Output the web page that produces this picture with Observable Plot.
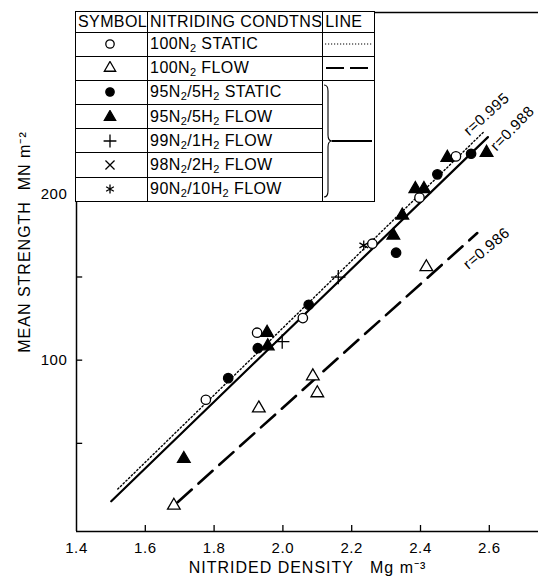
<!DOCTYPE html>
<html><head><meta charset="utf-8">
<script src="https://cdn.jsdelivr.net/npm/d3@7"></script>
<script src="https://cdn.jsdelivr.net/npm/@observablehq/plot@0.6"></script>
<style>
body{margin:0;background:#fff;}
#wrap{position:relative;width:538px;height:583px;overflow:hidden;background:#fff;}
#legend{position:absolute;left:75px;top:11px;border-collapse:collapse;table-layout:fixed;
  font-family:"Liberation Sans",Arial,sans-serif;font-size:16px;color:#000;background:#fff;letter-spacing:0.4px;}
#legend td{border:1.6px solid #000;padding:0 0 0 2px;white-space:nowrap;line-height:1;overflow:hidden;}
#legend td.sym{text-align:center;padding:0;}
#legend td.ln{padding:0;}
#legend sub{font-size:11px;vertical-align:-3px;line-height:0;}
#legend svg{display:block;}
</style></head>
<body><div id="wrap"></div>
<script>
// ---- axis ticks ----
const xDomain = [1.4, 2.743];
const yDomain = [-3, 309];
const xTickLabels = [1.4, 1.6, 1.8, 2.0, 2.2, 2.4, 2.6];
const xTicks = [1.6, 1.8, 2.0, 2.2, 2.4, 2.6];
const yTicks = [50, 100, 150, 200];
const yTickLabels = [100, 200];
const xTitle = "NITRIDED DENSITY   Mg m\u207B\u00B3";
const yTitle = "MEAN STRENGTH  MN m\u207B\u00B2";

// ---- data series [density, strength] ----
const n2Static = [[1.776,76.2],[1.925,116.5],[2.058,125.3],[2.260,170],[2.397,197.7],[2.503,222.5]];
const n2Flow = [[1.683,12.6],[1.930,71.1],[2.087,90.4],[2.100,80.2],[2.417,156]];
const h5Static = [[1.841,89.2],[1.927,107.2],[2.075,133.3],[2.329,164.6],[2.449,211.7],[2.547,224.1]];
const h5Flow = [[1.712,40.7],[1.954,116.5],[1.956,108.4],[2.321,175],[2.347,187],[2.385,203],[2.410,203],[2.478,221.7],[2.592,224.7]];
const h1Flow = [[1.998,111.2],[2.161,149.9]];
const h2Flow = [];
const h10Flow = [[2.235,169]];

// ---- fitted lines ----
const lineStatic100 = [[1.52,22.5],[2.585,237.5]];   // dotted
const lineFlow100 = [[1.694,14.6],[2.565,176.4]];    // dashed
const lineH2 = [[1.501,15.2],[2.596,234.1]];         // solid

// ---- correlation labels ----
const rLabels = ["r=0.995", "r=0.988", "r=0.986"];
const rX = [2.592, 2.667, 2.592];
const rY = [247.8, 239.3, 167.2];
const rAngle = [-42, -46, -40];

// ---- legend table ----
const legendHead = ["SYMBOL", "NITRIDING CONDTNS", "LINE"];
const legendSymbols = ["circle","triangle","circle","triangle","plus","times","asterisk"];
const legendFilled = [false,false,true,true,false,false,false];
const legendLabels = ["100N\u2082 STATIC","100N\u2082 FLOW","95N\u2082/5H\u2082 STATIC","95N\u2082/5H\u2082 FLOW","99N\u2082/1H\u2082 FLOW","98N\u2082/2H\u2082 FLOW","90N\u2082/10H\u2082 FLOW"];

const P = d => d[0], Q = d => d[1];
const dotR = 4.7;
function dots(data, symbol, filled) {
  return Plot.dot(data, {x: P, y: Q, symbol, r: dotR,
    fill: filled ? "black" : (symbol === "circle" || symbol === "triangle" ? "white" : "none"),
    stroke: "black", strokeWidth: 1.3});
}

const rData = rLabels.map((t, i) => ({t, x: rX[i], y: rY[i], a: rAngle[i]}));

const chart = Plot.plot({
  width: 538, height: 583,
  marginTop: 12, marginBottom: 52, marginLeft: 76, marginRight: 0,
  x: {domain: xDomain},
  y: {domain: yDomain},
  style: {fontFamily: "'Liberation Sans', Arial, sans-serif", fontSize: "15px", color: "black", background: "white", letterSpacing: "0.6px"},
  marks: [
    Plot.ruleY([yDomain[0]], {stroke: "black", strokeWidth: 1.5}),
    Plot.ruleY([yDomain[1]], {stroke: "black", strokeWidth: 1.5}),
    Plot.ruleX([xDomain[0]], {stroke: "black", strokeWidth: 1.5}),
    Plot.ruleX(xTicks, {x: d => d, y1: yDomain[0], y2: yDomain[0] + 3.6, stroke: "black", strokeWidth: 1.3}),
    Plot.ruleY(yTicks, {y: d => d, x1: xDomain[0], x2: xDomain[0] + 0.018, stroke: "black", strokeWidth: 1.3}),
    Plot.axisX({ticks: xTickLabels, tickSize: 0, tickPadding: 11, tickFormat: d3.format(".1f"), label: null}),
    Plot.axisY({ticks: yTickLabels, tickSize: 0, tickPadding: 9, label: null}),
    Plot.line(lineStatic100, {x: P, y: Q, stroke: "black", strokeWidth: 1.4, strokeDasharray: "1.4,2.4"}),
    Plot.line(lineFlow100, {x: P, y: Q, stroke: "black", strokeWidth: 2.6, strokeDasharray: "19,9"}),
    Plot.line(lineH2, {x: P, y: Q, stroke: "black", strokeWidth: 2.2}),
    dots(n2Static, "circle", false),
    dots(n2Flow, "triangle", false),
    dots(h5Static, "circle", true),
    dots(h5Flow, "triangle", true),
    dots(h1Flow, "plus", false),
    dots(h2Flow, "times", false),
    dots(h10Flow, "asterisk", false),
    Plot.text(rData, {x: "x", y: "y", text: "t", rotate: "a", fontSize: 15, fill: "black"}),
    Plot.text([xTitle], {frameAnchor: "bottom", dy: 41, fontSize: 16, fill: "black"}),
    Plot.text([yTitle], {frameAnchor: "middle", dx: -283, dy: -30, rotate: -90, fontSize: 16, fill: "black"})
  ]
});
const wrap = document.getElementById("wrap");
wrap.appendChild(chart);
// a bit wider lettering for the axis titles, as in the reference
d3.select(chart).selectAll("text").filter(function() { return this.textContent === xTitle || this.textContent === yTitle; })
  .attr("letter-spacing", "1px");

// ---- legend table overlay ----
const symMap = {circle: d3.symbolCircle, triangle: d3.symbolTriangle, plus: d3.symbolPlus, times: d3.symbolTimes, asterisk: d3.symbolAsterisk};
function symSvg(name, filled) {
  const r = 4.2;
  const path = d3.symbol(symMap[name], Math.PI * r * r)();
  const open = name === "circle" || name === "triangle";
  return `<svg width="68" height="14"><path transform="translate(34,7)" d="${path}" fill="${filled ? "black" : (open ? "white" : "none")}" stroke="black" stroke-width="1.3"/></svg>`;
}
const fmt = s => s.replace(/\u2082/g, "<sub>2</sub>");
const colW = [69, 172, 51];
const headH = 21, rowH = 23.9;
let html = `<colgroup>${colW.map(w => `<col style="width:${w}px">`).join("")}</colgroup>`;
html += `<tr style="height:${headH}px">${legendHead.map(h => `<td>${h}</td>`).join("")}</tr>`;
legendLabels.forEach((lab, i) => {
  html += `<tr style="height:${rowH}px"><td class="sym">${symSvg(legendSymbols[i], legendFilled[i])}</td><td>${fmt(lab)}</td>`;
  if (i === 0) {
    html += `<td class="ln"><svg width="51" height="10"><line x1="2" x2="49" y1="5" y2="5" stroke="black" stroke-width="1.2" stroke-dasharray="1.2,1.8"/></svg></td>`;
  } else if (i === 1) {
    html += `<td class="ln"><svg width="51" height="10"><line x1="3" x2="48" y1="5" y2="5" stroke="black" stroke-width="2" stroke-dasharray="18,6"/></svg></td>`;
  } else if (i === 2) {
    const H = Math.round(rowH * 5), m = H / 2;
    html += `<td class="ln" rowspan="5"><svg width="51" height="${H}"><path d="M1,4 Q5,4 5,10 L5,${m-6} Q5,${m} 9,${m} Q5,${m} 5,${m+6} L5,${H-10} Q5,${H-4} 1,${H-4}" fill="none" stroke="black" stroke-width="1.1"/><line x1="9" x2="49" y1="${m}" y2="${m}" stroke="black" stroke-width="2"/></svg></td>`;
  }
  html += `</tr>`;
});
const tbl = document.createElement("table");
tbl.id = "legend";
tbl.innerHTML = html;
wrap.appendChild(tbl);
</script>
</body></html>
